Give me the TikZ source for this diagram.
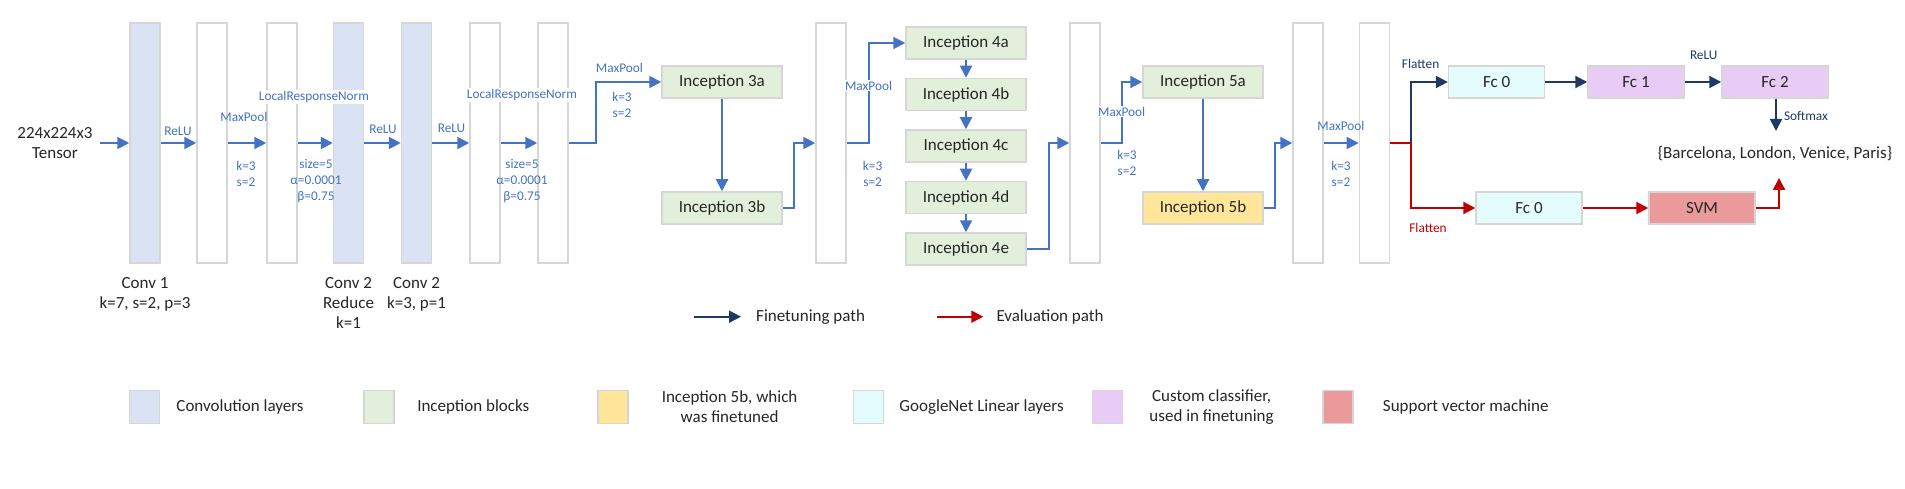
\documentclass[tikz,border=0pt]{standalone}
\usepackage{fontspec}
\setmainfont{Carlito}
\usepackage{tikz}
\usetikzlibrary{positioning,arrows.meta}
\definecolor{convblue}{HTML}{DAE3F3}
\definecolor{incepgreen}{HTML}{E2EFDA}
\definecolor{tunedyellow}{HTML}{FFE699}
\definecolor{linearcyan}{HTML}{E4FCFC}
\definecolor{customlilac}{HTML}{E8CCF6}
\definecolor{svmred}{HTML}{EA9A9A}
\definecolor{boxgrey}{HTML}{D6D6D6}
\definecolor{textgrey}{HTML}{262626}
\definecolor{arrowblue}{HTML}{4472C4}
\definecolor{pathblue}{HTML}{1F3864}
\definecolor{pathred}{HTML}{C00000}

\begin{document}
\begin{tikzpicture}[x=1pt, y=-1pt,
                font=\fontsize{17}{20}\selectfont, text=textgrey,
                layer/.style={draw=boxgrey, line width=1.5pt, minimum width=30pt, minimum height=240pt, inner sep=0pt},
                conv/.style={layer, fill=convblue},
                block/.style={draw=boxgrey, line width=1.5pt, minimum width=120pt, minimum height=32pt, inner sep=0pt},
                incep/.style={block, fill=incepgreen},
                tuned/.style={block, fill=tunedyellow},
                linear/.style={block, fill=linearcyan, minimum width=96pt},
                custom/.style={block, fill=customlilac, minimum width=96pt},
                svmbox/.style={block, fill=svmred, minimum width=106pt},
                swatch/.style={draw=boxgrey, line width=1.5pt, minimum width=30pt, minimum height=33pt, inner sep=0pt},
                legtext/.style={inner sep=2pt, align=center},
                arr/.style={-{Triangle[length=12pt,width=12pt]}, line width=2pt, draw=arrowblue},
                ftarr/.style={arr, draw=pathblue},
                evarr/.style={arr, draw=pathred},
                note/.style={font=\fontsize{13.3}{16}\selectfont, text=arrowblue, inner sep=1pt, align=center},
                cover/.style={note, fill=white}
                ]
\useasboundingbox (0,0) rectangle (1905,489);

% stem
\node[align=center] (input) at (55,143) {224x224x3\\Tensor};
\node[conv]  (l1) at (145,143) {};
\node[layer] (l2) at (212,143) {};
\node[layer] (l3) at (282,143) {};
\node[conv]  (l4) at (348.5,143) {};
\node[conv]  (l5) at (416.5,143) {};
\node[layer] (l6) at (485,143) {};
\node[layer] (l7) at (553,143) {};

\node[below=10pt of l1, align=center] (conv1lbl) {Conv 1\\k=7, s=2, p=3};
\node[below=10pt of l4, align=center] (conv2rlbl) {Conv 2\\Reduce\\k=1};
\node[below=10pt of l5, align=center] (conv2lbl) {Conv 2\\k=3, p=1};

% inception blocks
\node[incep] (i3a) at (722,82) {Inception 3a};
\node[incep] (i3b) at (722,208) {Inception 3b};
\node[layer] (l8) at (831,143) {};
\node[incep] (i4a) at (966,43) {Inception 4a};
\node[incep, below=18pt of i4a] (i4b) {Inception 4b};
\node[incep, below=18pt of i4b] (i4c) {Inception 4c};
\node[incep, below=18pt of i4c] (i4d) {Inception 4d};
\node[incep, below=18pt of i4d] (i4e) {Inception 4e};
\node[layer] (l9) at (1085,143) {};
\node[incep] (i5a) at (1203,82) {Inception 5a};
\node[tuned] (i5b) at (1203,208) {Inception 5b};
\node[layer] (l10) at (1308,143) {};
\node[layer] (l11) at (1374.4,143) {};

% classifiers
\node[linear] (fc0a) at (1496.6,82) {Fc 0};
\node[custom] (fc1) at (1636,82) {Fc 1};
\node[custom, minimum width=106pt] (fc2) at (1775,82) {Fc 2};
\node[linear, minimum width=106pt] (fc0b) at (1529,208) {Fc 0};
\node[svmbox] (svm) at (1702,208) {SVM};
\node (classes) at (1775,154) {\{Barcelona, London, Venice, Paris\}};
\coordinate (split) at (1411.4,143);
\coordinate (softend) at (1776,131);
\coordinate (evalend) at (1779,178);

% connectors
\draw[arr, shorten <=4pt] (input.east) -- (l1.west);
\draw[arr] (l1.east) -- (l2.west);
\draw[arr] (l2.east) -- (l3.west);
\draw[arr] (l3.east) -- (l4.west);
\draw[arr] (l4.east) -- (l5.west);
\draw[arr] (l5.east) -- (l6.west);
\draw[arr] (l6.east) -- (l7.west);
\draw[arr] (l7.east) -- ++(27,0) |- (i3a.west);
\draw[arr] (i3a) -- (i3b);
\draw[arr] (i3b.east) -- ++(11,0) |- (l8.west);
\draw[arr] (l8.east) -- ++(22.6,0) |- (i4a.west);
\draw[arr] (i4a) -- (i4b);
\draw[arr] (i4b) -- (i4c);
\draw[arr] (i4c) -- (i4d);
\draw[arr] (i4d) -- (i4e);
\draw[arr] (i4e.east) -- ++(22.6,0) |- (l9.west);
\draw[arr] (l9.east) -- ++(21.7,0) |- (i5a.west);
\draw[arr] (i5a) -- (i5b);
\draw[arr] (i5b.east) -- ++(11,0) |- (l10.west);
\draw[arr] (l10.east) -- (l11.west);
\draw[line width=2pt, pathred] (l11.east) -- (split);
\draw[ftarr] (split) |- (fc0a.west);
\draw[evarr] (split) |- (fc0b.west);
\draw[ftarr] (fc0a) -- (fc1);
\draw[ftarr] (fc1) -- (fc2);
\draw[ftarr] (fc2.south -| softend) -- (softend);
\draw[evarr] (fc0b) -- (svm);
\draw[evarr] (svm.east) -| (evalend);

% labels
\node[note] at (178,131) {ReLU};
\node[note] at (244,117) {MaxPool};
\node[note] at (246,174) {k=3\\s=2};
\node[cover] at (314,97) {LocalResponseNorm};
\node[note] at (316,181) {size=5\\α=0.0001\\β=0.75};
\node[note] at (383,129.5) {ReLU};
\node[note] at (451.5,128.5) {ReLU};
\node[cover] at (522,95) {LocalResponseNorm};
\node[note] at (522,181) {size=5\\α=0.0001\\β=0.75};
\node[note] at (619.5,68) {MaxPool};
\node[note] at (622,105) {k=3\\s=2};
\node[cover] at (868.6,85.7) {MaxPool};
\node[note] at (872.6,173.7) {k=3\\s=2};
\node[cover] at (1121.7,111.7) {MaxPool};
\node[note] at (1127,163) {k=3\\s=2};
\node[note] at (1341,126) {MaxPool};
\node[note] at (1341,174) {k=3\\s=2};
\node[note, text=pathblue] at (1420.6,64) {Flatten};
\node[note, text=pathred] at (1428,228) {Flatten};
\node[note, text=pathblue] at (1703.7,55) {ReLU};
\node[note, text=pathblue] at (1806,115.7) {Softmax};

% path legend
\coordinate (ft1) at (694,316.7);
\coordinate (ft2) at (741,316.7);
\coordinate (ev1) at (937,316.7);
\coordinate (ev2) at (983.3,316.7);
\draw[ftarr] (ft1) -- (ft2);
\draw[evarr] (ev1) -- (ev2);
\node[legtext, right=13pt of ft2] (ftlbl) {Finetuning path};
\node[legtext, right=11pt of ev2] (evlbl) {Evaluation path};

% colour legend
\node[swatch, fill=convblue]    (sw1) at (144.5,407) {};
\node[swatch, fill=incepgreen]  (sw2) at (378.8,407) {};
\node[swatch, fill=tunedyellow] (sw3) at (612.8,407) {};
\node[swatch, fill=linearcyan]  (sw4) at (868.5,407) {};
\node[swatch, fill=customlilac] (sw5) at (1107.5,407) {};
\node[swatch, fill=svmred]      (sw6) at (1338,407) {};
\node[legtext, right=14pt of sw1] {Convolution layers};
\node[legtext, right=20.5pt of sw2] {Inception blocks};
\node[legtext, right=31pt of sw3] {Inception 5b, which\\was finetuned};
\node[legtext, right=13pt of sw4] {GoogleNet Linear layers};
\node[legtext, right=24pt of sw5] {Custom classifier,\\used in finetuning};
\node[legtext, right=27pt of sw6] {Support vector machine};
\end{tikzpicture}
\end{document}
